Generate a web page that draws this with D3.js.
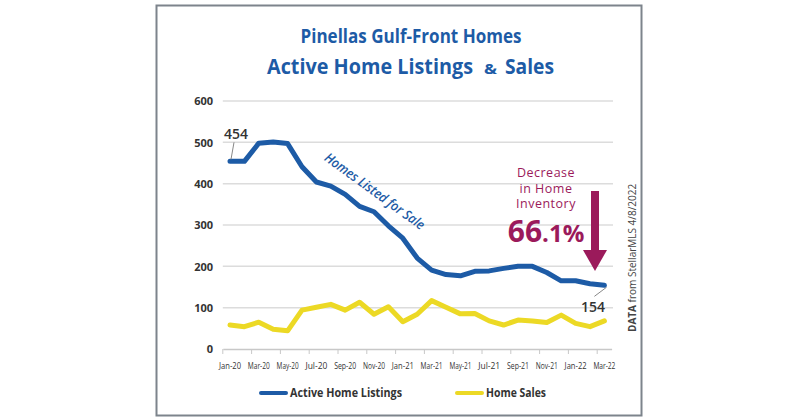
<!DOCTYPE html>
<html><head><meta charset="utf-8">
<script src="https://cdn.jsdelivr.net/npm/d3@7"></script>
<style>
html,body{margin:0;padding:0;background:#fff;}
svg{display:block;}
text{font-family:'Open Sans','Noto Sans',sans-serif;}
</style></head>
<body>
<svg id="chart" width="800" height="420"></svg>
<script>
const months = ["Jan-20","Feb-20","Mar-20","Apr-20","May-20","Jun-20","Jul-20","Aug-20","Sep-20","Oct-20","Nov-20","Dec-20",
"Jan-21","Feb-21","Mar-21","Apr-21","May-21","Jun-21","Jul-21","Aug-21","Sep-21","Oct-21","Nov-21","Dec-21",
"Jan-22","Feb-22","Mar-22"];
const activeListings = [454,454,498,501,497,441,404,394,374,345,332,298,268,220,191,180,177,188,189,195,200,200,185,165,165,158,154];
const homeSales = [58,54,65,48,44,94,101,108,94,113,84,102,66,84,117,101,85,86,68,58,70,68,64,82,62,54,68];
const yTicks = [0,100,200,300,400,500,600];
const xTickLabels = months.filter((d,i)=>i%2===0);
const seriesNames = ["Active Home Listings","Home Sales"];

const BLUE = "#1d5ba6", YELLOW = "#ecd925", MAROON = "#9b1a5b", TXT = "#333";
const svg = d3.select("#chart");

// frame
svg.append("rect").attr("x",156.5).attr("y",5.5).attr("width",485).attr("height",410)
  .attr("fill","#fff").attr("stroke","#7d848c").attr("stroke-width",2);

// titles
svg.append("text").attr("x",411).attr("y",43).attr("text-anchor","middle")
  .attr("font-size",19).attr("font-weight",700).attr("fill",BLUE)
  .attr("textLength",221).attr("lengthAdjust","spacingAndGlyphs")
  .text("Pinellas Gulf-Front Homes");
[["Active Home Listings",267,206,21],["&",484,13,15],["Sales",505,49,21]].forEach(([t,tx,tl,fs])=>{
  svg.append("text").attr("x",tx).attr("y",74).attr("font-size",fs).attr("font-weight",700)
    .attr("fill",BLUE).attr("textLength",tl).attr("lengthAdjust","spacingAndGlyphs").text(t);
});

// scales
const x = d3.scaleBand().domain(months).range([222.8,611.6]).padding(0);
const bw = x.bandwidth();
const cx = d => x(d) + bw/2;
const y = d3.scaleLinear().domain([0,600]).range([349,101]);

// grid
svg.append("g").selectAll("line").data(yTicks.filter(d=>d>0)).join("line")
  .attr("x1",222.8).attr("x2",613).attr("y1",d=>y(d)).attr("y2",d=>y(d))
  .attr("stroke","#dcdcdc").attr("stroke-width",1.5);

// y axis labels
const yAxis = d3.axisLeft(y).tickValues(yTicks).tickSize(0).tickPadding(0).tickFormat(d3.format("d"));
const gy = svg.append("g").attr("transform","translate(213,0)").call(yAxis);
gy.select(".domain").remove();
gy.selectAll("text").attr("font-size",11).attr("font-weight",700).attr("fill",TXT)
  .attr("font-family","'Open Sans',sans-serif").attr("dy","0.35em");

// x axis
const xAxis = d3.axisBottom(x).tickValues(xTickLabels).tickSize(0).tickPadding(0);
const gx = svg.append("g").attr("transform","translate(0,349)").call(xAxis);
gx.select(".domain").attr("stroke","#c8c8c8").attr("stroke-width",1.5);
gx.selectAll("text").attr("font-size",9).attr("fill",TXT).attr("y",14)
  .attr("font-family","'Roboto',sans-serif")
  .attr("textLength",22).attr("lengthAdjust","spacingAndGlyphs");
svg.append("g").selectAll("line").data(xTickLabels).join("line")
  .attr("x1",d=>x(d)).attr("x2",d=>x(d)).attr("y1",349).attr("y2",354)
  .attr("stroke","#c8c8c8").attr("stroke-width",1);

// lines
const line = d3.line().x((d,i)=>cx(months[i])).y(d=>y(d)).curve(d3.curveLinear);
svg.append("path").datum(homeSales).attr("d",line).attr("fill","none")
  .attr("stroke",YELLOW).attr("stroke-width",5).attr("stroke-linejoin","round").attr("stroke-linecap","round");
svg.append("path").datum(activeListings).attr("d",line).attr("fill","none")
  .attr("stroke",BLUE).attr("stroke-width",5).attr("stroke-linejoin","round").attr("stroke-linecap","round");

// annotations 454 / 154
const first = activeListings[0], last = activeListings[activeListings.length-1];
svg.append("line").attr("x1",cx(months[0])+1).attr("y1",y(first)-2).attr("x2",cx(months[0])+4).attr("y2",y(first)-19)
  .attr("stroke","#888").attr("stroke-width",1);
svg.append("text").attr("x",236).attr("y",139).attr("text-anchor","middle")
  .attr("font-size",14).attr("font-weight",600).attr("fill",TXT).text(String(first));
const lx = cx(months[months.length-1]);
svg.append("line").attr("x1",lx+2).attr("y1",y(last)+2).attr("x2",lx-10).attr("y2",y(last)+11)
  .attr("stroke","#888").attr("stroke-width",1);
svg.append("text").attr("x",593).attr("y",312).attr("text-anchor","middle")
  .attr("font-size",14).attr("font-weight",600).attr("fill",TXT).text(String(last));

// rotated series label
svg.append("text").attr("transform","translate(372,195) rotate(36)").attr("text-anchor","middle")
  .attr("font-size",13.5).attr("font-style","italic").attr("font-weight",600).attr("fill",BLUE)
  .attr("textLength",120).attr("lengthAdjust","spacingAndGlyphs")
  .text("Homes Listed for Sale");

// decrease annotation
const decLines = ["Decrease","in Home","Inventory"];
svg.append("g").selectAll("text").data(decLines).join("text")
  .attr("x",546).attr("y",(d,i)=>177+i*15.5).attr("text-anchor","middle")
  .attr("fill",MAROON).attr("font-size",12.5).attr("letter-spacing","0.5").text(d=>d);
const pct = svg.append("text").attr("x",546).attr("y",242).attr("text-anchor","middle")
  .attr("fill",MAROON).attr("font-weight",700).attr("font-size",30);
pct.append("tspan").text("66");
pct.append("tspan").attr("font-size",24).text(".1%");

// arrow
svg.append("rect").attr("x",591).attr("y",191).attr("width",8).attr("height",60).attr("fill",MAROON);
svg.append("path").attr("d","M583,250 L607,250 L595,271 Z").attr("fill",MAROON);

// source
const src = svg.append("text").attr("transform","translate(636,332) rotate(-90)")
  .attr("font-size",10).attr("fill","#444");
src.append("tspan").attr("font-weight",700).text("DATA");
src.append("tspan").text(" from StellarMLS 4/8/2022");

// legend
const leg = svg.append("g");
[[261,290,112,BLUE,seriesNames[0]],[457,486,60,YELLOW,seriesNames[1]]].forEach(([x1,tx,tl,c,name])=>{
  leg.append("line").attr("x1",x1).attr("x2",x1+25).attr("y1",393).attr("y2",393)
    .attr("stroke",c).attr("stroke-width",4).attr("stroke-linecap","round");
  leg.append("text").attr("x",tx).attr("y",397).attr("font-size",11.5).attr("font-weight",700)
    .attr("fill",TXT).attr("textLength",tl).attr("lengthAdjust","spacingAndGlyphs").text(name);
});
</script>
</body></html>
